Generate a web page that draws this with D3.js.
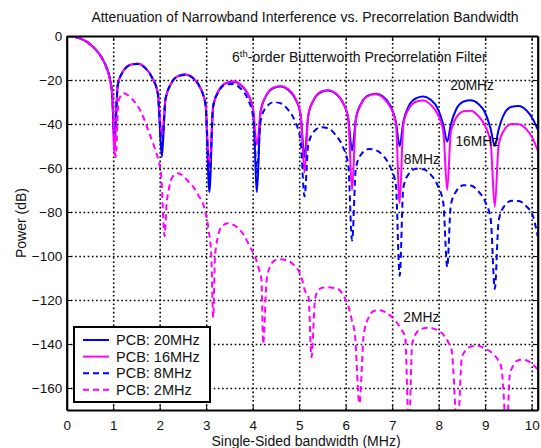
<!DOCTYPE html>
<html lang="en">
<head>
<meta charset="utf-8">
<title>Attenuation of Narrowband Interference</title>
<script src="https://d3js.org/d3.v7.min.js"></script>
<style>
body { margin: 0; background: #fff; }
text { font-family: "Liberation Sans", Arial, Helvetica, sans-serif; }
</style>
</head>
<body>
<script type="text/javascript">
var w = 541;
var h = 448;

// [frequency MHz, power dB]
var pcb20 = [
  [0,0],[0.15,-0.3],[0.3,-1.2],[0.45,-2.9],[0.6,-5.6],[0.75,-9.7],[0.85,-14],[0.93,-19.5],[0.98,-27],[1.023,-48],
  [1.10,-22],[1.22,-15.8],[1.38,-13],[1.53,-12.6],[1.69,-14.5],[1.84,-19],[1.96,-26],[2.046,-55],
  [2.126,-28.6],[2.246,-21.6],[2.406,-18.1],[2.556,-17.5],[2.716,-19],[2.866,-23.2],[2.986,-31],[3.069,-71],
  [3.15,-31.9],[3.27,-24.8],[3.43,-21.4],[3.58,-20.8],[3.74,-22.3],[3.89,-26.2],[4.01,-33.7],[4.092,-71],
  [4.17,-34.4],[4.29,-27.2],[4.45,-23.7],[4.60,-23],[4.76,-24.4],[4.91,-28.3],[5.03,-35.7],[5.115,-55],
  [5.195,-36.2],[5.315,-29],[5.475,-25.5],[5.625,-24.8],[5.785,-26.2],[5.935,-30.1],[6.055,-37.5],[6.138,-52],
  [6.22,-37.6],[6.34,-30.4],[6.50,-26.9],[6.65,-26.2],[6.81,-27.6],[6.96,-31.6],[7.08,-39],[7.161,-50],
  [7.24,-39],[7.36,-31.7],[7.52,-28.2],[7.67,-27.5],[7.83,-29],[7.98,-33],[8.10,-40.4],[8.184,-48],
  [8.26,-40.4],[8.38,-33.2],[8.54,-29.8],[8.69,-29.2],[8.85,-30.8],[9.00,-34.9],[9.12,-42.4],[9.207,-50],
  [9.29,-42.5],[9.41,-35.4],[9.57,-32.2],[9.72,-31.8],[9.88,-33.6],[10.03,-37.9],[10.13,-42.5]
];

var pcb16 = [
  [0,0],[0.15,-0.3],[0.3,-1.2],[0.45,-2.9],[0.6,-5.6],[0.75,-9.7],[0.85,-14],[0.93,-19.5],[0.98,-27],[1.023,-54],
  [1.10,-22],[1.22,-15.8],[1.38,-13],[1.53,-12.6],[1.69,-14.5],[1.84,-19],[1.96,-26],[2.046,-45],
  [2.126,-28.6],[2.246,-21.6],[2.406,-18.1],[2.556,-17.5],[2.716,-19],[2.866,-23.2],[2.986,-31],[3.069,-60],
  [3.15,-31.9],[3.27,-24.8],[3.43,-21.3],[3.58,-20.6],[3.74,-22],[3.89,-26],[4.01,-33.6],[4.092,-49.5],
  [4.17,-34.2],[4.29,-27],[4.45,-23.4],[4.60,-22.7],[4.76,-24.1],[4.91,-28],[5.03,-35.5],[5.115,-62],
  [5.195,-36],[5.315,-28.8],[5.475,-25.2],[5.625,-24.5],[5.785,-26],[5.935,-30],[6.055,-37.5],[6.138,-70],
  [6.22,-37.8],[6.34,-30.7],[6.50,-27.1],[6.65,-26.5],[6.81,-28.2],[6.96,-32.3],[7.08,-39.8],[7.161,-76],
  [7.24,-40.1],[7.36,-33],[7.52,-29.8],[7.67,-29.3],[7.83,-31.3],[7.98,-35.6],[8.10,-43.5],[8.184,-70],
  [8.26,-43.9],[8.38,-37.1],[8.54,-34.2],[8.69,-34],[8.85,-36.3],[9.00,-40.9],[9.12,-48.9],[9.207,-77.6],
  [9.29,-49.5],[9.41,-42.7],[9.57,-40],[9.72,-40.1],[9.88,-42.2],[10.03,-46.9],[10.13,-52]
];

var pcb8 = [
  [0,0],[0.15,-0.3],[0.3,-1.2],[0.45,-2.9],[0.6,-5.6],[0.75,-9.7],[0.85,-14],[0.93,-19.6],[0.98,-27.2],[1.023,-45],
  [1.10,-22.2],[1.22,-15.9],[1.38,-13.1],[1.53,-12.7],[1.69,-14.6],[1.84,-19.1],[1.96,-26.2],[2.046,-50],
  [2.126,-28.6],[2.246,-21.6],[2.406,-18.2],[2.556,-17.7],[2.716,-19.2],[2.866,-23.5],[2.986,-31.4],[3.069,-65],
  [3.15,-32.1],[3.27,-25.2],[3.43,-22],[3.58,-21.8],[3.74,-23.9],[3.89,-28.5],[4.01,-36.8],[4.092,-62],
  [4.17,-38.6],[4.29,-32.4],[4.45,-30.1],[4.60,-30.6],[4.76,-33.5],[4.91,-38.8],[5.03,-47.5],[5.115,-73],
  [5.195,-49.5],[5.315,-43.5],[5.475,-41.5],[5.625,-42],[5.785,-45],[5.935,-50.2],[6.055,-58.5],[6.138,-93],
  [6.22,-60],[6.34,-53.6],[6.50,-51.4],[6.65,-51.9],[6.81,-54.5],[6.96,-59.6],[7.08,-67.8],[7.161,-109],
  [7.24,-69],[7.36,-62.6],[7.52,-60.3],[7.67,-60.6],[7.83,-63],[7.98,-68],[8.10,-76],[8.184,-105],
  [8.26,-77],[8.38,-70.5],[8.54,-67.8],[8.69,-68],[8.85,-70.5],[9.00,-75.3],[9.12,-83.4],[9.207,-115],
  [9.29,-84],[9.41,-77.4],[9.57,-74.9],[9.72,-75],[9.88,-77.3],[10.03,-82],[10.13,-91]
];

var pcb2 = [
  [0,0],[0.15,-0.3],[0.3,-1.2],[0.45,-2.9],[0.6,-5.6],[0.75,-9.8],[0.85,-14.3],[0.93,-20],[0.99,-28],[1.054,-55],
  [1.11,-30.6],[1.15,-27.6],[1.22,-26],[1.30,-26.6],[1.40,-28.5],[1.50,-31],[1.58,-33.8],[1.67,-38],[1.75,-42.7],[1.86,-49],[1.97,-56.4],[2.03,-63],[2.105,-91],
  [2.15,-76],[2.19,-70.5],[2.25,-65],[2.38,-62.4],[2.50,-63.5],[2.60,-65.8],[2.72,-68.5],[2.82,-72],[2.97,-79],[3.05,-88],[3.11,-100],[3.15,-128],
  [3.19,-100.3],[3.26,-90.5],[3.33,-86.7],[3.47,-85.1],[3.60,-86],[3.73,-88.2],[3.84,-91.5],[3.94,-95.8],[4.05,-100.3],[4.14,-106.4],[4.19,-111],[4.225,-140],
  [4.30,-111],[4.37,-105],[4.47,-102.1],[4.59,-101.5],[4.77,-102.3],[4.88,-104],[4.98,-106.4],[5.06,-110.5],[5.12,-115.5],[5.20,-118.5],[5.265,-146],
  [5.34,-120],[5.41,-115.5],[5.52,-114.3],[5.63,-114.2],[5.75,-114.5],[5.84,-115],[5.98,-119],[6.06,-123],[6.13,-129],[6.20,-136],[6.295,-167],
  [6.39,-135.5],[6.50,-127.7],[6.60,-125],[6.72,-124.6],[6.85,-125.5],[6.98,-127.5],[7.09,-130],[7.20,-133.5],[7.28,-137],[7.36,-180],
  [7.43,-140],[7.52,-135],[7.65,-133],[7.80,-132.6],[7.95,-133.5],[8.09,-135.5],[8.20,-139],[8.28,-143],[8.405,-180],
  [8.50,-146],[8.60,-142.5],[8.72,-141],[8.84,-140.8],[8.98,-141.8],[9.17,-144.5],[9.27,-147],[9.35,-150.8],[9.465,-180],
  [9.53,-154],[9.60,-150],[9.68,-147.7],[9.78,-147.2],[9.88,-147.4],[10.0,-148.8],[10.13,-151.6]
];

var seriesNames = ["PCB: 20MHz", "PCB: 16MHz", "PCB: 8MHz", "PCB: 2MHz"];
var seriesData = [pcb20, pcb16, pcb8, pcb2];
var seriesColor = ["#0000ff", "#ff00ff", "#0000ff", "#ff00ff"];
var seriesDash = [null, null, "6,4", "6,4"];

var xTicks = [0, 1, 2, 3, 4, 5, 6, 7, 8, 9, 10];
var yTicks = [0, -20, -40, -60, -80, -100, -120, -140, -160];

var labels = [
  {text: "20MHz", x: 8.25, y: -24.5},
  {text: "16MHz", x: 8.36, y: -50},
  {text: "8MHz", x: 7.25, y: -58},
  {text: "2MHz", x: 7.24, y: -130}
];

var padL = 66.7, padR = 537.7, padT = 36, padB = 410;

var xScale = d3.scaleLinear().domain([0, 10.13]).range([padL, padR]);
var yScale = d3.scaleLinear().domain([-170, 0]).range([padB, padT]);

var svg = d3.select("body")
            .append("svg")
            .attr("width", w)
            .attr("height", h);

svg.append("rect").attr("width", w).attr("height", h).attr("fill", "#fff");

svg.append("defs").append("clipPath")
   .attr("id", "plotclip")
   .append("rect")
   .attr("x", padL).attr("y", padT)
   .attr("width", padR - padL).attr("height", padB - padT);

// dotted grid
var gridX = svg.append("g")
   .attr("transform", "translate(0," + padB + ")")
   .call(d3.axisBottom(xScale).tickValues(xTicks.slice(1)).tickSize(-(padB - padT)).tickFormat(""));
var gridY = svg.append("g")
   .attr("transform", "translate(" + padL + ",0)")
   .call(d3.axisLeft(yScale).tickValues(yTicks.slice(1)).tickSize(-(padR - padL)).tickFormat(""));
[gridX, gridY].forEach(function(g){
  g.select(".domain").remove();
  g.selectAll("line")
   .attr("stroke", "#000")
   .attr("stroke-width", 1.6)
   .attr("stroke-dasharray", "1.6,2.6");
});

// curves
var line = d3.line()
             .x(function(d){ return xScale(d[0]); })
             .y(function(d){ return yScale(d[1]); })
             .curve(d3.curveMonotoneX);

svg.append("g")
   .attr("clip-path", "url(#plotclip)")
   .selectAll("path")
   .data(seriesData)
   .enter()
   .append("path")
   .attr("d", function(d){ return line(d); })
   .attr("fill", "none")
   .attr("stroke", function(d, i){ return seriesColor[i]; })
   .attr("stroke-width", 2)
   .attr("stroke-dasharray", function(d, i){ return seriesDash[i]; });

// axes with inward ticks on all four sides
var xAxis = svg.append("g")
   .attr("transform", "translate(0," + padB + ")")
   .call(d3.axisBottom(xScale).tickValues(xTicks).tickSizeInner(-5).tickSizeOuter(0).tickPadding(10));
var xTop = svg.append("g")
   .attr("transform", "translate(0," + padT + ")")
   .call(d3.axisTop(xScale).tickValues(xTicks).tickSizeInner(-5).tickSizeOuter(0).tickFormat(""));
var yAxis = svg.append("g")
   .attr("transform", "translate(" + padL + ",0)")
   .call(d3.axisLeft(yScale).tickValues(yTicks).tickSizeInner(-5).tickSizeOuter(0).tickPadding(4.5));
var yRight = svg.append("g")
   .attr("transform", "translate(" + padR + ",0)")
   .call(d3.axisRight(yScale).tickValues(yTicks).tickSizeInner(-5).tickSizeOuter(0).tickFormat(""));

[xAxis, xTop, yAxis, yRight].forEach(function(g){
  g.select(".domain").attr("stroke", "#000").attr("stroke-width", 2.2);
  g.selectAll(".tick line").attr("stroke", "#000").attr("stroke-width", 1);
  g.selectAll(".tick text")
   .attr("font-family", "'Liberation Sans', Arial, Helvetica, sans-serif")
   .attr("font-size", "13.5px")
   .attr("fill", "#111");
});

// titles
svg.append("text")
   .attr("x", 305).attr("y", 22)
   .attr("text-anchor", "middle")
   .attr("font-size", "14px").attr("fill", "#111")
   .text("Attenuation of Narrowband Interference vs. Precorrelation Bandwidth");

svg.append("text")
   .attr("x", 306).attr("y", 446)
   .attr("text-anchor", "middle")
   .attr("font-size", "14px").attr("fill", "#111")
   .text("Single-Sided bandwidth (MHz)");

svg.append("text")
   .attr("transform", "translate(26," + ((padT + padB) / 2) + ") rotate(-90)")
   .attr("text-anchor", "middle")
   .attr("font-size", "14px").attr("fill", "#111")
   .text("Power (dB)");

var note = svg.append("text")
   .attr("x", 232).attr("y", 62)
   .attr("font-size", "14px").attr("fill", "#111");
note.append("tspan").text("6");
note.append("tspan").attr("font-size", "9.5px").attr("dy", -5.5).text("th");
note.append("tspan").attr("dy", 5.5).text("-order Butterworth Precorrelation Filter");

svg.selectAll(".curvelabel")
   .data(labels)
   .enter()
   .append("text")
   .attr("class", "curvelabel")
   .attr("x", function(d){ return xScale(d.x); })
   .attr("y", function(d){ return yScale(d.y); })
   .attr("font-size", "13.8px").attr("fill", "#111")
   .text(function(d){ return d.text; });

// legend
var lg = svg.append("g").attr("transform", "translate(74,327)");
lg.append("rect")
  .attr("width", 136).attr("height", 75)
  .attr("fill", "#fff").attr("stroke", "#000").attr("stroke-width", 2);
var items = lg.selectAll(".item")
  .data(seriesNames)
  .enter()
  .append("g")
  .attr("class", "item")
  .attr("transform", function(d, i){ return "translate(0," + (13 + i * 16.6) + ")"; });
items.append("line")
  .attr("x1", 9).attr("x2", 35)
  .attr("stroke", function(d, i){ return seriesColor[i]; })
  .attr("stroke-width", 2)
  .attr("stroke-dasharray", function(d, i){ return seriesDash[i]; });
items.append("text")
  .attr("x", 42).attr("y", 5)
  .attr("font-size", "14.5px").attr("fill", "#111")
  .text(function(d){ return d; });
</script>
</body>
</html>
